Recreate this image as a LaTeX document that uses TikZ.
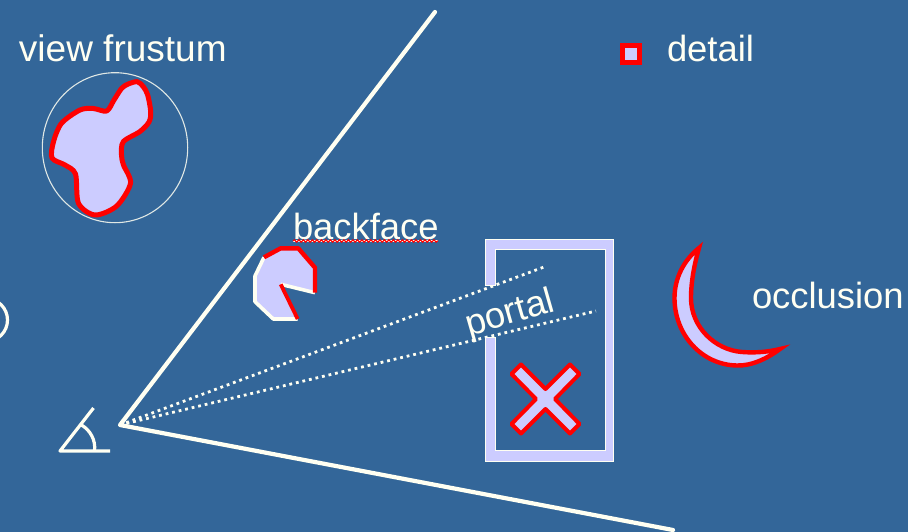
\documentclass[tikz,border=0pt]{standalone}
\usepackage{fontspec}
\setmainfont{Liberation Sans}
\usetikzlibrary{decorations.pathmorphing}
\definecolor{bg}{HTML}{336699}
\definecolor{cream}{HTML}{FFFFF2}
\definecolor{lav}{HTML}{CCCCFF}
\begin{document}
\begin{tikzpicture}[x=1pt,y=-1pt,
  label/.style={text=cream,inner sep=0pt,outer sep=0pt,anchor=base west,font=\fontsize{36.4}{40}\selectfont},
  ray/.style={draw=cream,line width=4.2pt},
  thinray/.style={draw=cream,line width=3.2pt},
  sightline/.style={draw=cream,line width=2.8pt,dash pattern=on 2.8pt off 3.9pt},
  shapefill/.style={fill=lav,draw=red,line width=5pt,line join=round}]
\path[use as bounding box,fill=bg] (0,0) rectangle (908,532);
\clip (0,0) rectangle (908,532);
\coordinate (apex) at (120,425);
\coordinate (rayA) at (435,12);
\coordinate (rayB) at (673,530);
\coordinate (dotA) at (544,267);
\coordinate (dotB) at (596,311);
% far-left arc
\draw[draw=cream,line width=3.2pt] (-14,320) circle[radius=21.5];
% view frustum object
\draw[draw=cream!85!bg,line width=1.1pt] (115,147.7) ellipse[x radius=72.7,y radius=75];
\draw[shapefill] plot[smooth cycle,tension=0.5] coordinates {(137.3,81.7) (143.3,86.7) (147.7,95) (150.7,111.7) (149,122) (140,131.5) (123.3,141.7) (121.5,155) (123.5,165) (130.5,183.3) (116.7,206) (95,215) (78.5,203.3) (75.5,174) (65,165) (52,158) (53.5,141.7) (61.5,123.3) (80,110) (93.3,108.5) (106.7,111) (114,100) (121.7,88.3) (128.3,84)};
% main rays
\draw[ray,line cap=round,line join=round] (rayA) -- (apex) -- (rayB);
\draw[sightline] (apex) -- (dotA);
\draw[sightline] (apex) -- (dotB);
% eye symbol
\coordinate (eyeO) at (60,451);
\coordinate (eyeT) at (93.5,408);
\coordinate (eyeR) at (110,451);
\draw[thinray,line join=round] (eyeT) -- (eyeO) -- (eyeR);
\draw[thinray] (81.5,425) .. controls (90,430) and (96,440) .. (94.5,451);
% backface polygon
\fill[lav] (264,257.3) -- (280.7,248.3) -- (298.3,248.3) -- (315,267.7) -- (315,292.7) -- (280.7,284.3) -- (297.7,319) -- (273.3,319) -- (255,301.7) -- (255,276) -- cycle;
\draw[draw=cream,line width=3.6pt,line join=round] (315,292.7) -- (280.7,284.3);
\draw[draw=cream,line width=3.6pt,line join=round] (297.7,319) -- (273.3,319) -- (255,301.7) -- (255,276) -- (264,257.3);
\draw[draw=red,line width=4.4pt,line join=round] (264,257.3) -- (280.7,248.3) -- (298.3,248.3) -- (315,267.7) -- (315,292.7);
\draw[draw=red,line width=3.8pt] (280.7,284.3) -- (297.7,319);
% portal frame
\draw[fill=lav,draw=cream,line width=1pt] (485.5,285) -- (485.5,239.5) -- (613.5,239.5) -- (613.5,461) -- (485.5,461) -- (485.5,337) -- (495,337) -- (495,450.7) -- (605.3,450.7) -- (605.3,249.5) -- (495,249.5) -- (495,285) -- cycle;
% occluded cross
\draw[shapefill,line width=4pt] (545.5,389) -- (521,364.5) -- (511.5,374) -- (536,399) -- (511.5,424) -- (521,433.5) -- (545.5,409) -- (570,433.5) -- (579.5,424) -- (555,399) -- (579.5,374) -- (570,364.5) -- cycle;
% crescent
\draw[shapefill,line width=4.4pt,line join=miter] (699,248) .. controls (684,260) and (674.5,278) .. (674.5,298) .. controls (674.5,335) and (702,365) .. (737,365.5) .. controls (752,366) and (768,358) .. (780,349) .. controls (768,352) and (755,353) .. (742,352) .. controls (715,350) and (691,327) .. (691,298) .. controls (691,280) and (695,262) .. (699,248) -- cycle;
% detail square
\draw[shapefill,line width=5pt,line join=miter] (622.5,46) rectangle (639.3,62.8);
% labels
\node[label,font=\fontsize{37}{40}\selectfont] (lfrustum) at (19,62) {view frustum};
\node[label] (ldetail) at (667,62) {detail};
\node[label] (lback) at (293,239) {backface};
\node[label] (locc) at (752,308) {occlusion};
\node[label,rotate=16] (lportal) at (469,336) {portal};
% spell-check underline
\coordinate (uA) at (293,241);
\coordinate (uB) at (438,241);
\draw[draw=cream,line width=1.1pt] (uA) -- (uB);
\draw[draw=red,line width=1.1pt,decorate,decoration={snake,amplitude=1.2pt,segment length=4.5pt}] (uA) -- (uB);
\end{tikzpicture}
\end{document}
